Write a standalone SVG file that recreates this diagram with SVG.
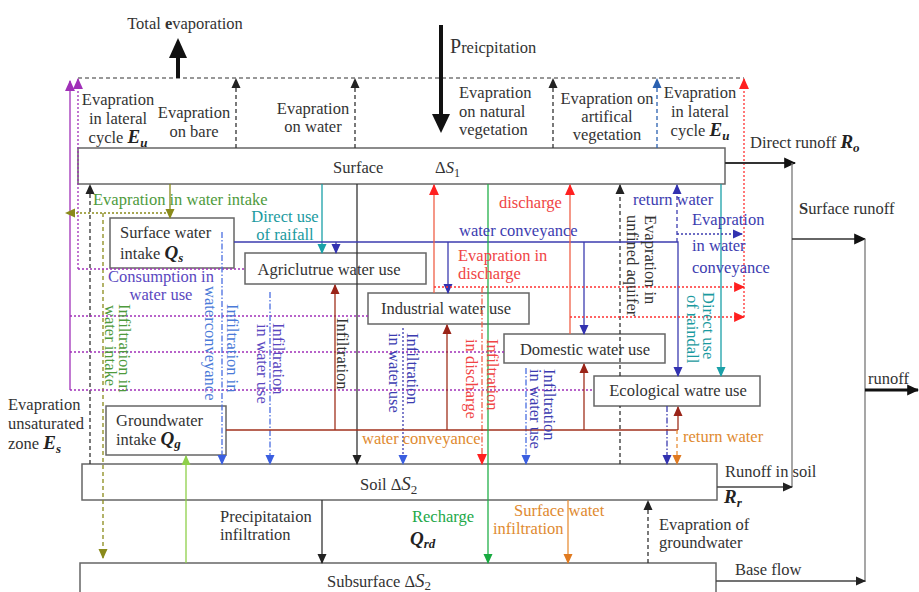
<svg xmlns="http://www.w3.org/2000/svg" width="919" height="592" viewBox="0 0 919 592">
<style>
text{font-family:"Liberation Serif","Times New Roman",serif;font-size:16.5px;fill:#333}
.m{text-anchor:middle}
.it{font-style:italic;font-weight:bold;font-size:19px;fill:#222}
.sb{font-style:italic;font-weight:bold;font-size:13px;fill:#222}
.box{fill:#fff;stroke:#666;stroke-width:1.5}
.ln{fill:none;stroke-width:1.3}
.dash{stroke-dasharray:4,3}
.dot{stroke-dasharray:2,2}
.dd{stroke-dasharray:6,2,1.5,2}
.k{stroke:#333}.gr{stroke:#777}.p{stroke:#a030b8}.ol{stroke:#8a8a1a}.t{stroke:#1aa0a8}
.b{stroke:#3c3cb0}.lb{stroke:#4a6ee0}.r{stroke:#f06048}.rr{stroke:#ff3030}.br{stroke:#a0301c}
.o{stroke:#e8903a}.g{stroke:#22b04a}.lg{stroke:#8ed04a}.bd{stroke:#2a60b0}
.cg{fill:#4e9a3c}.ct{fill:#1a9aa0}.cb{fill:#3c3cb0}.clb{fill:#4a7ad8}.cp{fill:#5a48c0}.cr{fill:#f04545}.co{fill:#e08a30}.cgr{fill:#22a848}
</style>
<defs>
<marker id="ak" viewBox="0 0 10 10" refX="9" refY="5" markerWidth="10" markerHeight="10" markerUnits="userSpaceOnUse" orient="auto"><path d="M0,0.5 L10,5 L0,9.5 z" fill="#222"/></marker>
<marker id="ap" viewBox="0 0 10 10" refX="9" refY="5" markerWidth="11" markerHeight="11" markerUnits="userSpaceOnUse" orient="auto"><path d="M0,0.5 L10,5 L0,9.5 z" fill="#a030b8"/></marker>
<marker id="aol" viewBox="0 0 10 10" refX="9" refY="5" markerWidth="10" markerHeight="10" markerUnits="userSpaceOnUse" orient="auto"><path d="M0,0.5 L10,5 L0,9.5 z" fill="#8a8a1a"/></marker>
<marker id="at" viewBox="0 0 10 10" refX="9" refY="5" markerWidth="10" markerHeight="10" markerUnits="userSpaceOnUse" orient="auto"><path d="M0,0.5 L10,5 L0,9.5 z" fill="#1aa0a8"/></marker>
<marker id="ab" viewBox="0 0 10 10" refX="9" refY="5" markerWidth="10" markerHeight="10" markerUnits="userSpaceOnUse" orient="auto"><path d="M0,0.5 L10,5 L0,9.5 z" fill="#3232b0"/></marker>
<marker id="alb" viewBox="0 0 10 10" refX="9" refY="5" markerWidth="10" markerHeight="10" markerUnits="userSpaceOnUse" orient="auto"><path d="M0,0.5 L10,5 L0,9.5 z" fill="#3a5ee0"/></marker>
<marker id="ar" viewBox="0 0 10 10" refX="9" refY="5" markerWidth="11" markerHeight="11" markerUnits="userSpaceOnUse" orient="auto"><path d="M0,0.5 L10,5 L0,9.5 z" fill="#ff2020"/></marker>
<marker id="abr" viewBox="0 0 10 10" refX="9" refY="5" markerWidth="10" markerHeight="10" markerUnits="userSpaceOnUse" orient="auto"><path d="M0,0.5 L10,5 L0,9.5 z" fill="#9a2418"/></marker>
<marker id="ao" viewBox="0 0 10 10" refX="9" refY="5" markerWidth="10" markerHeight="10" markerUnits="userSpaceOnUse" orient="auto"><path d="M0,0.5 L10,5 L0,9.5 z" fill="#e07a20"/></marker>
<marker id="ag" viewBox="0 0 10 10" refX="9" refY="5" markerWidth="10" markerHeight="10" markerUnits="userSpaceOnUse" orient="auto"><path d="M0,0.5 L10,5 L0,9.5 z" fill="#18aa40"/></marker>
<marker id="alg" viewBox="0 0 10 10" refX="9" refY="5" markerWidth="10" markerHeight="10" markerUnits="userSpaceOnUse" orient="auto"><path d="M0,0.5 L10,5 L0,9.5 z" fill="#8ed04a"/></marker>
<marker id="abd" viewBox="0 0 10 10" refX="9" refY="5" markerWidth="10" markerHeight="10" markerUnits="userSpaceOnUse" orient="auto"><path d="M0,0.5 L10,5 L0,9.5 z" fill="#2a60b0"/></marker>
<marker id="akb" viewBox="0 0 10 10" refX="9" refY="5" markerWidth="12" markerHeight="12" markerUnits="userSpaceOnUse" orient="auto"><path d="M0,0.5 L10,5 L0,9.5 z" fill="#111"/></marker>
</defs>
<rect width="919" height="592" fill="#fff"/>

<g id="nodes">
<g id="surface"><rect class="box" x="78" y="148" width="647" height="36"/>
<text x="333" y="173">Surface</text><text x="435" y="173">Δ<tspan font-style="italic">S</tspan><tspan font-size="12" dy="4">1</tspan></text></g>
<g id="soil"><rect class="box" x="82" y="464" width="635" height="36"/>
<text x="360" y="490">Soil Δ<tspan font-style="italic" font-size="19">S</tspan><tspan font-size="13" dy="4">2</tspan></text></g>
<g id="subsurface"><rect class="box" x="80" y="563" width="636" height="40"/>
<text x="327" y="587">Subsurface  Δ<tspan font-style="italic" font-size="19">S</tspan><tspan font-size="13" dy="3">2</tspan></text></g>
<g id="surface-water-intake"><rect class="box" x="110" y="218" width="124" height="50"/>
<text x="120" y="238">Surface water</text><text x="120" y="259">intake <tspan class="it" font-weight="normal">Q</tspan><tspan class="sb" font-weight="normal" dy="3">s</tspan></text></g>
<g id="agriculture"><rect class="box" x="245" y="253" width="181" height="31"/>
<text class="m" x="329" y="275">Agriclutrue water use</text></g>
<g id="industrial"><rect class="box" x="368" y="293" width="161" height="31"/>
<text class="m" x="446" y="314">Industrial water use</text></g>
<g id="domestic"><rect class="box" x="504" y="334" width="161" height="29"/>
<text class="m" x="585" y="355">Domestic water use</text></g>
<g id="ecological"><rect class="box" x="594" y="376" width="166" height="30"/>
<text class="m" x="678" y="396">Ecological watre use</text></g>
<g id="groundwater-intake"><rect class="box" x="106" y="406" width="120" height="49"/>
<text x="116" y="426">Groundwater</text><text x="116" y="445">intake <tspan class="it" font-weight="normal">Q</tspan><tspan class="sb" font-weight="normal" dy="3">g</tspan></text></g>
</g>

<g id="connectors">
<path class="ln gr dash" d="M78,78 H744"/>
<line class="ln k dash" x1="236" y1="148" x2="236" y2="79" marker-end="url(#ak)"/>
<line class="ln k dash" x1="355" y1="148" x2="355" y2="79" marker-end="url(#ak)"/>
<line class="ln k dash" x1="553" y1="148" x2="553" y2="79" marker-end="url(#ak)"/>
<line class="ln bd dash" x1="657" y1="148" x2="657" y2="79" marker-end="url(#abd)"/>
<line class="ln rr dot" x1="744" y1="317" x2="744" y2="79" marker-end="url(#ar)"/>
<line class="ln p" x1="70" y1="390" x2="70" y2="81" marker-end="url(#ap)"/>
<line class="ln p dot" x1="78" y1="269" x2="78" y2="79" marker-end="url(#ap)"/>
<line x1="178" y1="78" x2="178" y2="56" stroke="#111" stroke-width="4"/>
<polygon points="169,58 178,38 187,58" fill="#111"/>
<line x1="441" y1="25" x2="441" y2="116" stroke="#111" stroke-width="4"/>
<polygon points="432,114 441,133 450,114" fill="#111"/>
<line x1="725" y1="163" x2="795" y2="163" stroke="#333" stroke-width="2" marker-end="url(#akb)"/>
<path class="ln gr" d="M792,163 V487" stroke-width="1.6"/>
<line x1="792" y1="239" x2="865" y2="239" stroke="#333" stroke-width="1.6" marker-end="url(#akb)"/>
<path class="ln gr" d="M865,239 V582" stroke-width="1.6"/>
<line x1="865" y1="390" x2="918" y2="390" stroke="#111" stroke-width="3" marker-end="url(#akb)"/>
<line x1="717" y1="487" x2="792" y2="487" stroke="#444" stroke-width="1.6" marker-end="url(#ak)"/>
<line x1="716" y1="581" x2="865" y2="581" stroke="#444" stroke-width="1.6" marker-end="url(#ak)"/>
<line class="ln k dash" x1="90" y1="464" x2="90" y2="185" marker-end="url(#ak)"/>
<line class="ln k" x1="357" y1="184" x2="357" y2="464" marker-end="url(#ak)"/>
<line class="ln k dash" x1="620" y1="464" x2="620" y2="406"/>
<line class="ln k dash" x1="620" y1="376" x2="620" y2="185" marker-end="url(#ak)"/>
<line class="ln k" x1="322" y1="500" x2="322" y2="563" marker-end="url(#ak)"/>
<line class="ln k dash" x1="648" y1="563" x2="648" y2="501" marker-end="url(#ak)"/>
<line class="ln ol" x1="170" y1="184" x2="170" y2="218" marker-end="url(#aol)"/>
<line class="ln ol dot" x1="170" y1="213" x2="66" y2="213" marker-end="url(#aol)"/>
<line class="ln ol dash" x1="103" y1="213" x2="103" y2="558" marker-end="url(#aol)"/>
<path class="ln p dot" d="M78,269 H245 M70,316 H368 M70,352 H504 M70,390 H594"/>
<line class="ln t" x1="322" y1="184" x2="322" y2="253" marker-end="url(#at)"/>
<line class="ln t" x1="721" y1="184" x2="721" y2="376" marker-end="url(#at)"/>
<path class="ln b" d="M234,242 H678 V376" marker-end="url(#ab)"/>
<line class="ln b" x1="336" y1="242" x2="336" y2="253" marker-end="url(#ab)"/>
<line class="ln b" x1="448" y1="242" x2="448" y2="293" marker-end="url(#ab)"/>
<line class="ln b" x1="584" y1="242" x2="584" y2="334" marker-end="url(#ab)"/>
<line class="ln b dash" x1="677" y1="242" x2="677" y2="185" marker-end="url(#ab)"/>
<line class="ln b dot" x1="677" y1="234" x2="742" y2="234" marker-end="url(#ab)"/>
<line class="ln lb dd" x1="222" y1="232" x2="222" y2="464" marker-end="url(#alb)"/>
<line class="ln lb dd" x1="270" y1="292" x2="270" y2="464" marker-end="url(#alb)"/>
<line class="ln b dot" x1="403" y1="328" x2="403" y2="464" marker-end="url(#alb)"/>
<line class="ln lb dd" x1="526" y1="368" x2="526" y2="464" marker-end="url(#alb)"/>
<line class="ln b dd" x1="667" y1="406" x2="667" y2="464" marker-end="url(#ab)"/>
<line class="ln r" x1="434" y1="293" x2="434" y2="185" marker-end="url(#ar)"/>
<line class="ln r" x1="570" y1="334" x2="570" y2="185" marker-end="url(#ar)"/>
<line class="ln rr dot" x1="434" y1="287" x2="744" y2="287" marker-end="url(#ar)"/>
<line class="ln rr dot" x1="570" y1="317" x2="744" y2="317" marker-end="url(#ar)"/>
<line class="ln r dd" x1="482" y1="287" x2="482" y2="464" marker-end="url(#ar)"/>
<path class="ln br" d="M226,430 H678"/>
<line class="ln br" x1="335" y1="430" x2="335" y2="285" marker-end="url(#abr)"/>
<line class="ln br" x1="447" y1="430" x2="447" y2="325" marker-end="url(#abr)"/>
<line class="ln br" x1="584" y1="430" x2="584" y2="364" marker-end="url(#abr)"/>
<line class="ln br" x1="678" y1="430" x2="678" y2="407" marker-end="url(#abr)"/>
<line class="ln o dash" x1="677" y1="430" x2="677" y2="464" marker-end="url(#ao)"/>
<line class="ln g" x1="488" y1="184" x2="488" y2="563" marker-end="url(#ag)"/>
<line class="ln o" x1="568" y1="500" x2="568" y2="563" marker-end="url(#ao)"/>
<line class="ln lg" x1="186" y1="563" x2="186" y2="456" marker-end="url(#alg)"/>
</g>

<g id="labels">
<text class="m" x="185" y="29" font-size="17">Total <tspan font-weight="bold">e</tspan>vaporation</text>
<text x="450" y="53" font-size="17"><tspan font-size="20">P</tspan>reicpitation</text>
<text class="m" x="118" y="105">Evapration</text>
<text class="m" x="118" y="124">in lateral</text>
<text class="m" x="118" y="143">cycle <tspan class="it">E</tspan><tspan class="sb" dy="4">u</tspan></text>
<text class="m" x="194" y="118">Evapration</text>
<text class="m" x="194" y="137">on bare</text>
<text class="m" x="313" y="114">Evapration</text>
<text class="m" x="313" y="132">on water</text>
<text x="459" y="98">Evapration</text>
<text x="459" y="117">on natural</text>
<text x="459" y="135">vegetation</text>
<text class="m" x="607" y="104">Evapration on</text>
<text class="m" x="607" y="122">artifical</text>
<text class="m" x="607" y="140">vegetation</text>
<text class="m" x="700" y="98">Evapration</text>
<text class="m" x="700" y="117">in lateral</text>
<text class="m" x="700" y="136">cycle <tspan class="it">E</tspan><tspan class="sb" dy="4">u</tspan></text>
<text x="750" y="148">Direct runoff  <tspan class="it">R</tspan><tspan class="sb" dy="4">o</tspan></text>
<text x="799" y="214"><tspan font-weight="bold">S</tspan>urface runoff</text>
<text x="868" y="384">runoff</text>
<text x="725" y="477">Runoff in soil</text>
<text x="724" y="503"><tspan class="it">R</tspan><tspan class="sb" dy="4">r</tspan></text>
<text x="735" y="575">Base flow</text>
<text x="659" y="530">Evapration of</text>
<text x="659" y="548">groundwater</text>
<text x="220" y="522">Precipitataion</text>
<text x="220" y="540">infiltration</text>
<text class="cgr" x="412" y="522">Recharge</text>
<text x="410" y="545"><tspan class="it" font-weight="normal">Q</tspan><tspan class="sb" font-weight="normal" dy="3">rd</tspan></text>
<text class="co" x="514" y="516">Surface watet</text>
<text class="co" x="493" y="534">infiltration</text>
<text x="8" y="410" font-size="16">Evapration</text>
<text x="8" y="429" font-size="16">unsaturated</text>
<text x="8" y="449" font-size="16">zone <tspan class="it">E</tspan><tspan class="sb" dy="4">s</tspan></text>
<text class="co" x="362" y="444">water conveyance</text>
<text class="co" x="683" y="442">return water</text>
<text class="cg" x="93" y="205">Evapration in water intake</text>
<text class="ct m" x="285" y="222">Direct use</text>
<text class="ct m" x="285" y="240">of raifall</text>
<text class="cp m" x="161" y="282">Consumption in</text>
<text class="cp m" x="161" y="300">water use</text>
<text class="cr" x="499" y="208">discharge</text>
<text class="cb" x="459" y="236">water conveyance</text>
<text class="cr" x="458" y="261">Evapration in</text>
<text class="cr" x="458" y="279">discharge</text>
<text class="cb" x="633" y="205">return water</text>
<text class="cb" x="692" y="225">Evapration</text>
<text class="cb" x="692" y="251">in water</text>
<text class="cb" x="692" y="273">conveyance</text>
<text class="cg" transform="translate(119,304) rotate(90)">Infiltration in</text>
<text class="cg" transform="translate(105,305) rotate(90)">water intake</text>
<text class="clb" transform="translate(227,304) rotate(90)">Infiltration in</text>
<text class="clb" transform="translate(205,286) rotate(90)">waterconveyance</text>
<text class="cp" transform="translate(273,323) rotate(90)">Infiltration</text>
<text class="cp" transform="translate(257,324) rotate(90)">in water use</text>
<text transform="translate(337,318) rotate(90)">Infiltration</text>
<text class="cb" transform="translate(407,333) rotate(90)">Infiltration</text>
<text class="cb" transform="translate(389,333) rotate(90)">in water use</text>
<text class="cr" transform="translate(487,339) rotate(90)">Infiltration</text>
<text class="cr" transform="translate(466,339) rotate(90)">in discharge</text>
<text class="cb" transform="translate(544,369) rotate(90)">Infiltration</text>
<text class="cb" transform="translate(530,369) rotate(90)">in water use</text>
<text transform="translate(645,215) rotate(90)">Evapration in</text>
<text transform="translate(627,215) rotate(90)">unfined aquifer</text>
<text class="ct" transform="translate(703,292) rotate(90)">Direct use</text>
<text class="ct" transform="translate(687,295) rotate(90)">of raindall</text>
</g>
</svg>
